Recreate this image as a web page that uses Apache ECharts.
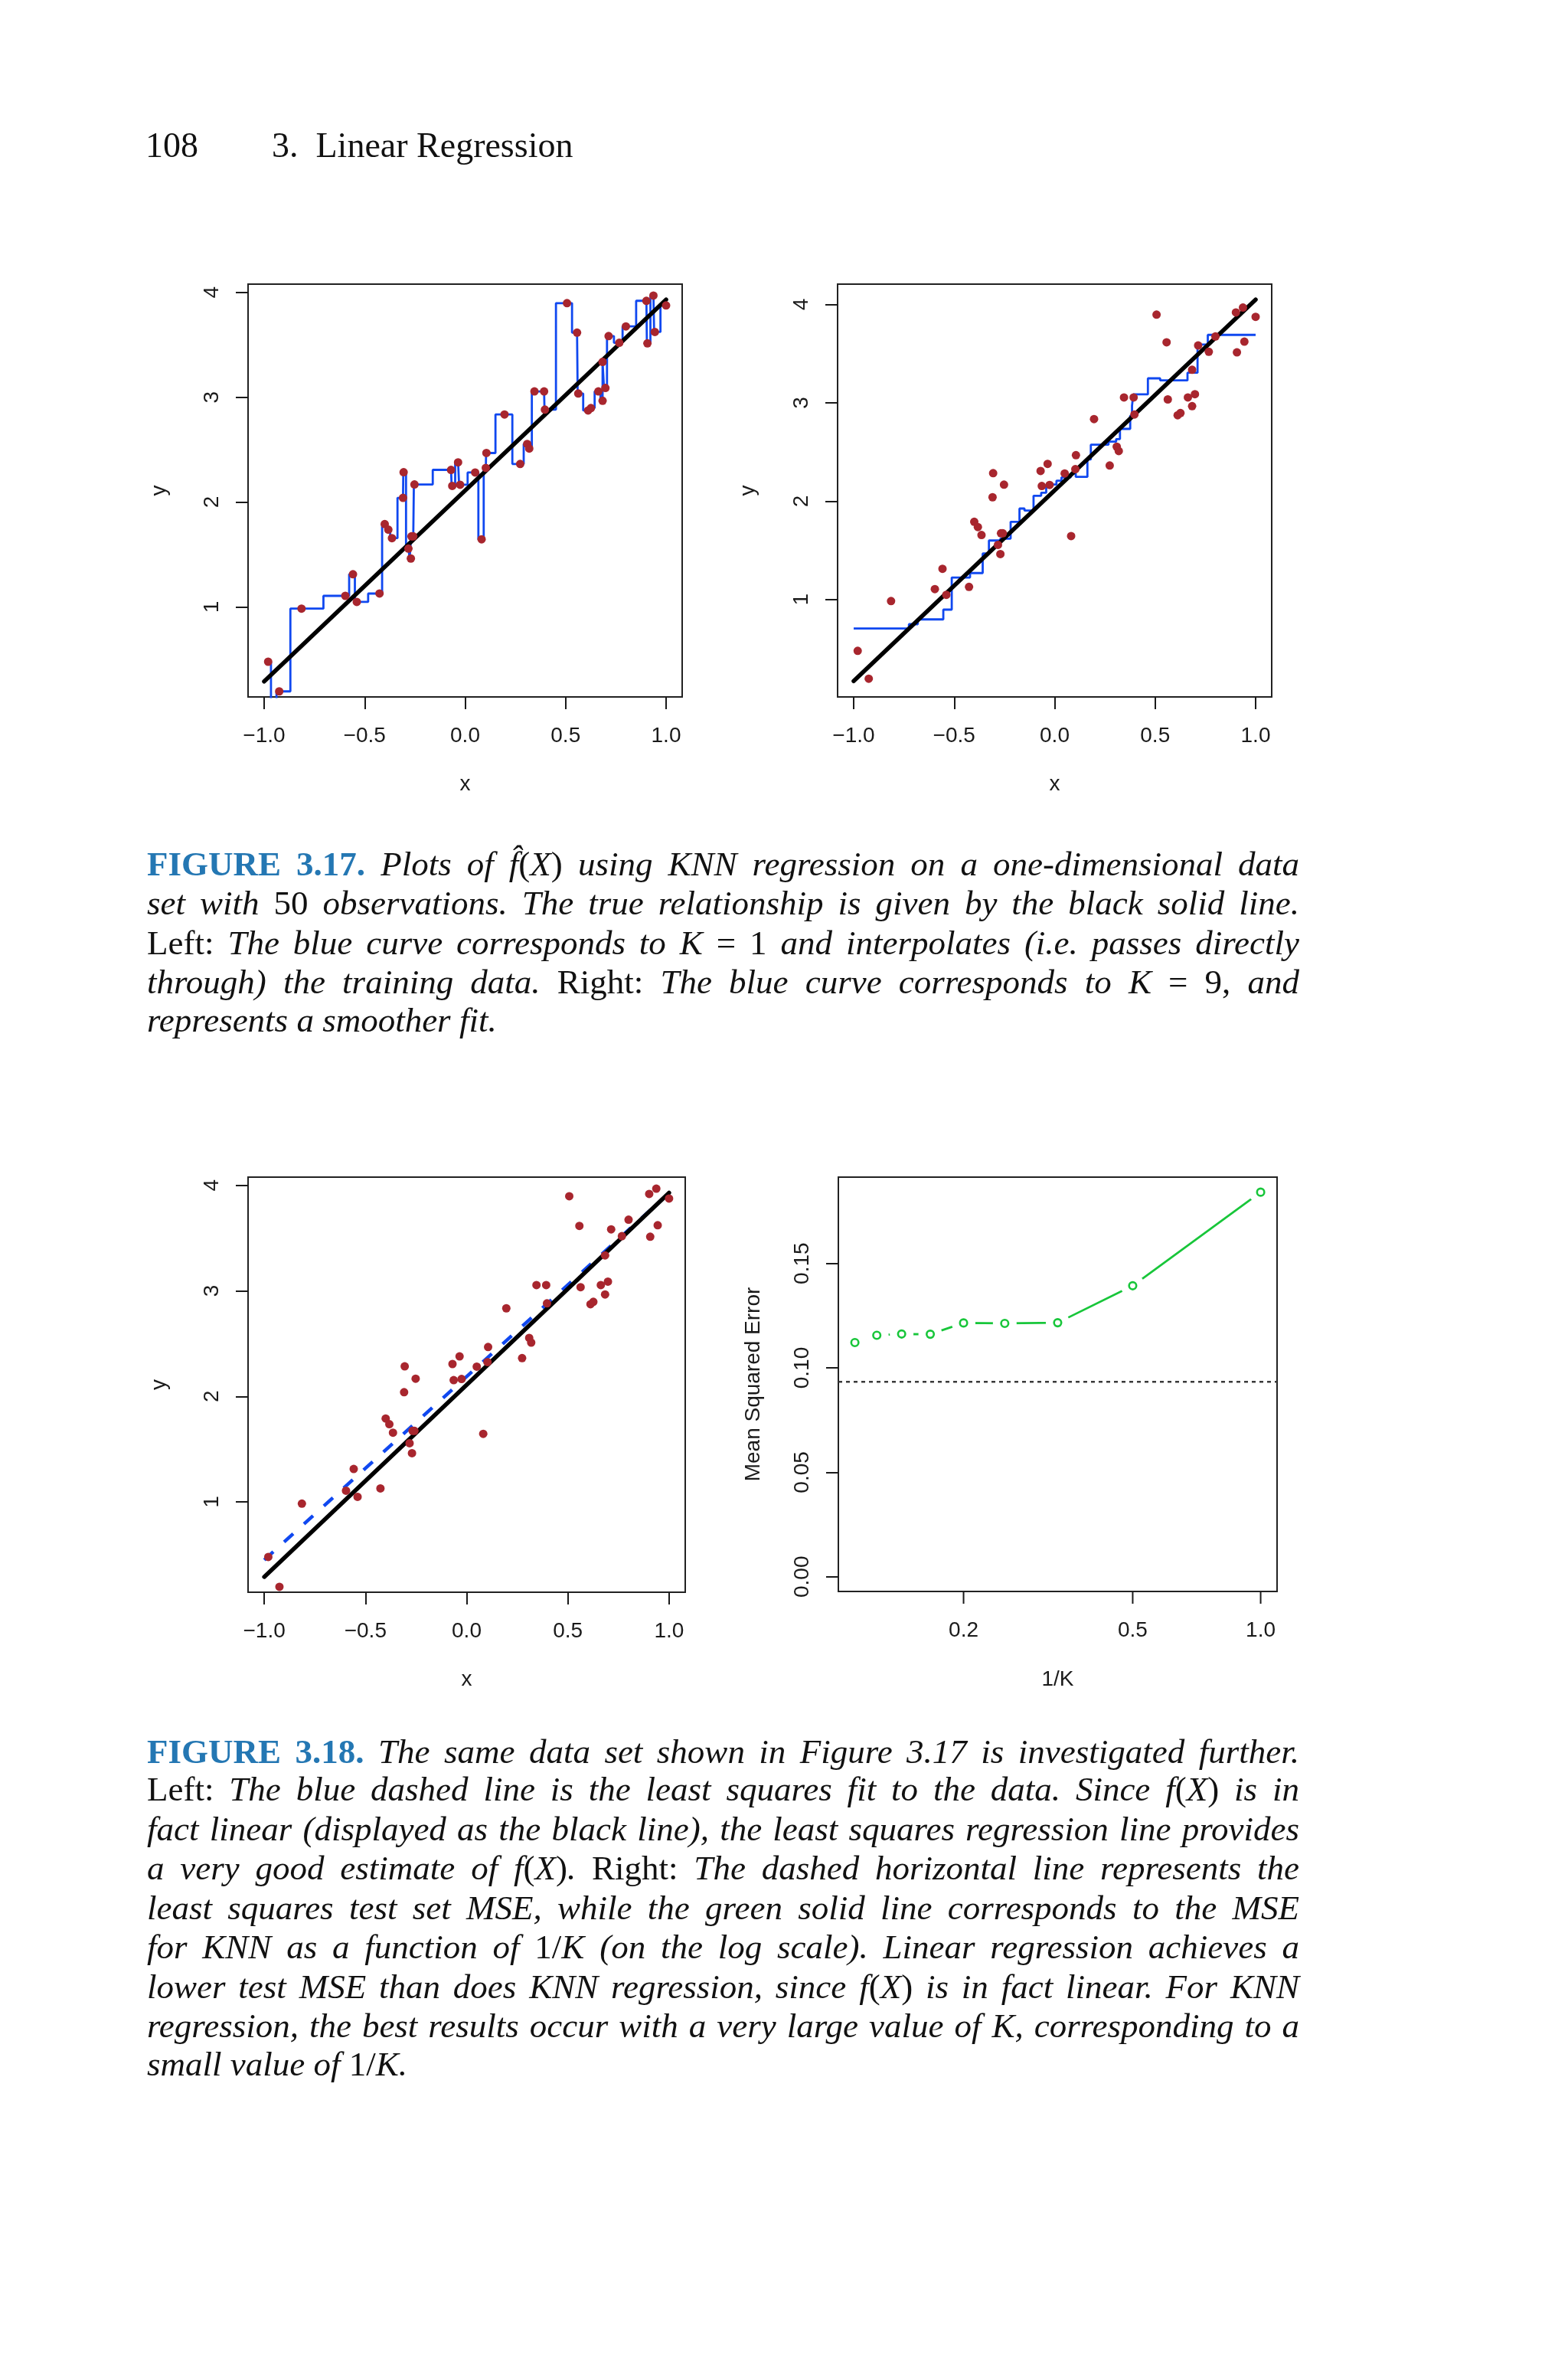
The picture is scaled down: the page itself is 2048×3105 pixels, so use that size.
<!DOCTYPE html>
<html>
<head>
<meta charset="utf-8">
<script src="https://cdn.jsdelivr.net/npm/echarts@6/dist/echarts.min.js"></script>
<style>
  html, body { margin: 0; padding: 0; background: #ffffff; }
  #page { position: relative; width: 2048px; height: 3105px; overflow: hidden; background: #fff; }
  #chart { position: absolute; left: 0; top: 0; width: 2048px; height: 3105px; }
  .ln { position: absolute; left: 192px; width: 1505px; font-family: 'Liberation Serif', 'Times New Roman', serif;
        font-size: 45px; line-height: 51px; color: #111; font-style: italic; white-space: nowrap; }
  .j { text-align: justify; text-align-last: justify; }
  .up { font-style: normal; }
  .fig { font-style: normal; font-weight: bold; color: #2477b3; }
  .hdr { position: absolute; top: 164px; font-family: 'Liberation Serif', 'Times New Roman', serif; font-size: 46px;
         line-height: 51px; color: #111; white-space: nowrap; }
</style>
</head>
<body>
<div id="page">
  <div id="chart"></div>

  <div class="hdr" style="left:190px">108</div>
  <div class="hdr" style="left:355px">3.&nbsp; Linear Regression</div>

  <div class="ln j" style="top:1103px"><span class="fig">FIGURE 3.17.</span> Plots of f&#770;<span class="up">(</span>X<span class="up">)</span> using KNN regression on a one-dimensional data</div>
  <div class="ln j" style="top:1154px">set with <span class="up">50</span> observations. The true relationship is given by the black solid line.</div>
  <div class="ln j" style="top:1206px"><span class="up">Left:</span> The blue curve corresponds to K <span class="up">= 1</span> and interpolates (i.e. passes directly</div>
  <div class="ln j" style="top:1257px">through) the training data. <span class="up">Right:</span> The blue curve corresponds to K <span class="up">= 9,</span> and</div>
  <div class="ln" style="top:1307px">represents a smoother fit.</div>

  <div class="ln j" style="top:2262px"><span class="fig">FIGURE 3.18.</span> The same data set shown in Figure 3.17 is investigated further.</div>
  <div class="ln j" style="top:2311px"><span class="up">Left:</span> The blue dashed line is the least squares fit to the data. Since f<span class="up">(</span>X<span class="up">)</span> is in</div>
  <div class="ln j" style="top:2363px">fact linear (displayed as the black line), the least squares regression line provides</div>
  <div class="ln j" style="top:2414px">a very good estimate of f<span class="up">(</span>X<span class="up">)</span>. <span class="up">Right:</span> The dashed horizontal line represents the</div>
  <div class="ln j" style="top:2466px">least squares test set MSE, while the green solid line corresponds to the MSE</div>
  <div class="ln j" style="top:2517px">for KNN as a function of <span class="up">1/</span>K (on the log scale). Linear regression achieves a</div>
  <div class="ln j" style="top:2569px">lower test MSE than does KNN regression, since f<span class="up">(</span>X<span class="up">)</span> is in fact linear. For KNN</div>
  <div class="ln j" style="top:2620px">regression, the best results occur with a very large value of K, corresponding to a</div>
  <div class="ln" style="top:2670px">small value of <span class="up">1/</span>K.</div>
</div>

<script>
// ---------------- data ----------------
const pointX = [-0.980,-0.952,-0.925,-0.814,-0.596,-0.558,-0.539,-0.426,-0.400,-0.382,-0.364,-0.309,-0.306,-0.282,-0.270,-0.267,-0.258,-0.252,-0.070,-0.064,-0.035,-0.025,0.050,0.082,0.103,0.106,0.196,0.274,0.309,0.319,0.345,0.393,0.397,0.507,0.557,0.563,0.612,0.626,0.663,0.684,0.684,0.698,0.714,0.767,0.800,0.902,0.907,0.937,0.944,1.000];
const pointY = [0.478,-0.050,0.195,0.984,1.106,1.312,1.048,1.128,1.790,1.737,1.656,2.040,2.285,1.556,1.462,1.673,1.673,2.168,2.307,2.154,2.379,2.165,2.282,1.645,2.326,2.468,2.835,2.363,2.554,2.510,3.055,3.055,2.882,3.897,3.616,3.035,2.874,2.896,3.055,2.966,3.336,3.088,3.583,3.519,3.675,3.919,3.513,3.969,3.622,3.875];

// K = 9 fit: start of each constant level and its value
const knn9X = [-1.0,-0.725,-0.681,-0.554,-0.512,-0.421,-0.358,-0.327,-0.270,-0.219,-0.175,-0.150,-0.105,-0.067,-0.042,0.009,0.034,0.080,0.105,0.163,0.180,0.268,0.306,0.325,0.376,0.385,0.391,0.464,0.525,0.661,0.711,0.762,1.0];
const knn9Y = [0.705,0.749,0.798,0.897,1.224,1.269,1.468,1.600,1.619,1.790,1.925,1.904,2.055,2.086,2.169,2.208,2.242,2.281,2.247,2.424,2.574,2.605,2.631,2.735,2.870,2.969,3.086,3.249,3.228,3.306,3.592,3.691,3.691];

const fitRangeX = [-1.0, 1.0];          // x span of the fitted curves
const trueYLeft  = [0.29, 3.93];        // black line ends, left panels
const trueYRight = [0.17, 4.05];        // black line ends, top-right panel
const lsY        = [0.45, 3.925];       // least squares (blue dashed) line ends

const invK    = [0.111, 0.125, 0.143, 0.167, 0.200, 0.250, 0.333, 0.500, 1.000];
const mseKnn  = [0.1121, 0.1156, 0.1162, 0.1161, 0.1215, 0.1213, 0.1216, 0.1393, 0.1841];
const mseLs   = 0.0933;

const xTicks     = [-1.0, -0.5, 0.0, 0.5, 1.0];
const yTicks     = [1, 2, 3, 4];
const mseTicks   = [0.00, 0.05, 0.10, 0.15];
const invKTicks  = [0.2, 0.5, 1.0];

// ---------------- styling ----------------
const SANS = "'Liberation Sans', Arial, Helvetica, sans-serif";
const INK = '#1a1a1a';
const RED = '#A8262E';
const BLUE = '#1048F0';
const GREEN = '#18C63A';
const FS = 28;

const xRange = [-1.08, 1.08];
const yRangeTL = [0.142, 4.078];
const yRangeTR = [0.0093, 4.207];
const yRangeBL = [0.144, 4.078];
const yRangeBR = [-0.00705, 0.1913];
const logRange = [0.1015, 1.093];

const fmtX = v => (v < 0 ? '\u2212' : '') + Math.abs(v).toFixed(1);
const fmtY = v => String(Math.round(v));
const fmtMse = v => v.toFixed(2);

function xAxisVal(gi, range, gap) {
  return {
    type: 'value', gridIndex: gi, min: range[0], max: range[1],
    axisLine: { show: false, onZero: false }, splitLine: { show: false },
    axisTick: { show: true, inside: false, length: 16, customValues: xTicks, lineStyle: { color: INK, width: 2 } },
    axisLabel: { show: true, customValues: xTicks, formatter: fmtX, margin: 37, color: INK, fontSize: FS, fontFamily: SANS },
    name: 'x', nameLocation: 'middle', nameGap: gap,
    nameTextStyle: { color: INK, fontSize: FS, fontFamily: SANS }
  };
}
function yAxisVal(gi, range, ticks, fmt, name, gap) {
  return {
    type: 'value', gridIndex: gi, min: range[0], max: range[1],
    axisLine: { show: false, onZero: false }, splitLine: { show: false },
    axisTick: { show: true, inside: false, length: 16, customValues: ticks, lineStyle: { color: INK, width: 2 } },
    axisLabel: { show: true, customValues: ticks, formatter: fmt, rotate: 90, margin: 33, color: INK, fontSize: FS, fontFamily: SANS },
    name: name, nameLocation: 'middle', nameGap: gap, nameRotate: 90,
    nameTextStyle: { color: INK, fontSize: FS, fontFamily: SANS }
  };
}

const points = pointX.map((x, i) => [x, pointY[i]]);
const k1Data = [[fitRangeX[0], pointY[0]]].concat(points, [[fitRangeX[1], pointY[pointY.length - 1]]]);
const k9Data = knn9X.map((x, i) => [x, knn9Y[i]]);
const trueLeft = fitRangeX.map((x, i) => [x, trueYLeft[i]]);
const trueRight = fitRangeX.map((x, i) => [x, trueYRight[i]]);
const lsLine = fitRangeX.map((x, i) => [x, lsY[i]]);
const mseData = invK.map((x, i) => [x, mseKnn[i]]);

function scatterSeries(gi) {
  return { type: 'scatter', xAxisIndex: gi, yAxisIndex: gi, data: points, symbol: 'circle', symbolSize: 11,
           itemStyle: { color: RED, opacity: 1 }, z: 5, silent: true, clip: true };
}
function blackLine(gi, data) {
  return { type: 'line', xAxisIndex: gi, yAxisIndex: gi, data: data, showSymbol: false, symbol: 'none',
           lineStyle: { color: '#000', width: 5.5, cap: 'round' }, z: 4, silent: true, clip: true };
}

const grids = [
  { left: 324, top: 371, width: 567, height: 539 },
  { left: 1094, top: 371, width: 567, height: 539 },
  { left: 324, top: 1537, width: 571, height: 542 },
  { left: 1095, top: 1537, width: 573, height: 541 }
].map(g => Object.assign(g, { show: true, borderColor: '#222', borderWidth: 2, backgroundColor: 'transparent', containLabel: false }));

const option = {
  animation: false,
  backgroundColor: '#ffffff',
  grid: grids,
  xAxis: [
    xAxisVal(0, xRange, 100),
    xAxisVal(1, xRange, 100),
    xAxisVal(2, xRange, 100),
    { type: 'log', logBase: 10, gridIndex: 3, min: logRange[0], max: logRange[1],
      axisLine: { show: false, onZero: false }, splitLine: { show: false }, axisTick: { show: false }, axisLabel: { show: false },
      name: '1/K', nameLocation: 'middle', nameGap: 101, nameTextStyle: { color: INK, fontSize: FS, fontFamily: SANS } }
  ],
  yAxis: [
    yAxisVal(0, yRangeTL, yTicks, fmtY, 'y', 102),
    yAxisVal(1, yRangeTR, yTicks, fmtY, 'y', 103),
    yAxisVal(2, yRangeBL, yTicks, fmtY, 'y', 102),
    yAxisVal(3, yRangeBR, mseTicks, fmtMse, 'Mean Squared Error', 97)
  ],
  series: [
    // top-left: K = 1
    { type: 'line', xAxisIndex: 0, yAxisIndex: 0, data: k1Data, step: 'middle', showSymbol: false, symbol: 'none',
      lineStyle: { color: BLUE, width: 2.8 }, z: 3, silent: true, clip: true },
    blackLine(0, trueLeft),
    scatterSeries(0),
    // top-right: K = 9
    { type: 'line', xAxisIndex: 1, yAxisIndex: 1, data: k9Data, step: 'end', showSymbol: false, symbol: 'none',
      lineStyle: { color: BLUE, width: 2.8 }, z: 3, silent: true, clip: true },
    blackLine(1, trueRight),
    scatterSeries(1),
    // bottom-left: least squares
    { type: 'line', xAxisIndex: 2, yAxisIndex: 2, data: lsLine, showSymbol: false, symbol: 'none',
      lineStyle: { color: BLUE, width: 4.5, type: [16, 19] }, z: 3, silent: true, clip: true },
    blackLine(2, trueLeft),
    scatterSeries(2),
    // bottom-right: MSE
    { type: 'line', xAxisIndex: 3, yAxisIndex: 3, data: logRange.map(x => [x, mseLs]), showSymbol: false, symbol: 'none',
      lineStyle: { color: '#3a3a3a', width: 2.6, type: [5, 5] }, z: 2, silent: true },
    { type: 'line', xAxisIndex: 3, yAxisIndex: 3, data: mseData, showSymbol: false, symbol: 'none',
      lineStyle: { color: GREEN, width: 2.7 }, z: 2, silent: true },
    { type: 'scatter', xAxisIndex: 3, yAxisIndex: 3, data: mseData, symbol: 'circle', symbolSize: 31,
      itemStyle: { color: '#ffffff', opacity: 1 }, z: 3, silent: true },
    { type: 'scatter', xAxisIndex: 3, yAxisIndex: 3, data: mseData, symbol: 'circle', symbolSize: 9.5,
      itemStyle: { color: '#ffffff', borderColor: GREEN, borderWidth: 2.6, opacity: 1 }, z: 4, silent: true },
    { type: 'custom', xAxisIndex: 3, yAxisIndex: 3, coordinateSystem: 'cartesian2d', silent: true, clip: false, z: 5,
      data: invKTicks.map(v => [v, yRangeBR[0]]),
      renderItem: function (params, api) {
        const p = api.coord([api.value(0), api.value(1)]);
        return { type: 'group', children: [
          { type: 'line', shape: { x1: p[0], y1: p[1], x2: p[0], y2: p[1] + 16 }, style: { stroke: INK, lineWidth: 2 } },
          { type: 'text', style: { text: api.value(0).toFixed(1), x: p[0], y: p[1] + 37, align: 'center', verticalAlign: 'top',
              font: FS + 'px ' + SANS, fill: INK } }
        ] };
      } }
  ]
};

const chart = echarts.init(document.getElementById('chart'), null, { renderer: 'canvas', width: 2048, height: 3105 });
chart.setOption(option);
</script>
</body>
</html>
